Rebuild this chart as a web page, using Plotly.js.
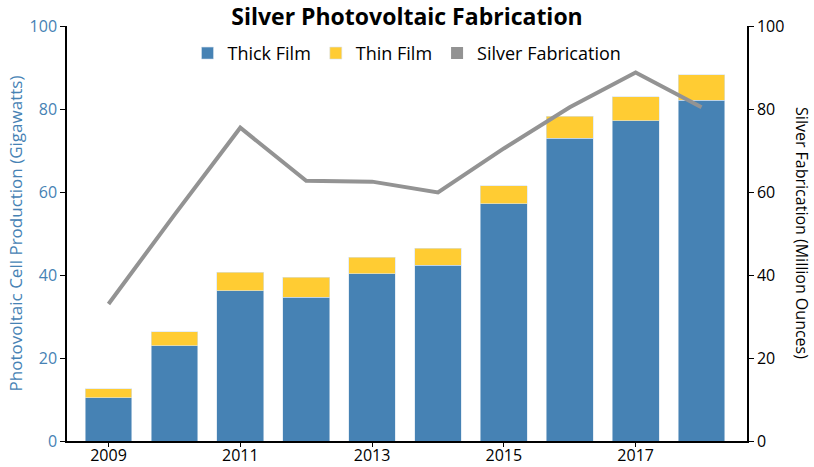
<!DOCTYPE html>
<html>
<head>
<meta charset="utf-8">
<script src="https://cdn.plot.ly/plotly-3.0.1.min.js"></script>
<style>
  html, body { margin: 0; padding: 0; background: #fff; }
  #chart { width: 814px; height: 467px; }
</style>
</head>
<body>
<div id="chart"></div>
<script>
var years = [2009, 2010, 2011, 2012, 2013, 2014, 2015, 2016, 2017, 2018];
var thickFilm = [10.4, 22.9, 36.2, 34.7, 40.3, 42.4, 57.2, 72.9, 77.2, 82.1];
var thinFilm = [2.2, 3.4, 4.5, 4.7, 4.0, 4.1, 4.3, 5.4, 5.8, 6.1];
var silverFab = [33.0, 54.5, 75.5, 62.7, 62.5, 59.9, 70.5, 80.4, 88.8, 80.4];

var blue = '#4682b4';
var yellow = '#ffcc33';
var grey = '#939393';
var font = '"Open Sans", Lato, sans-serif';

var thick = {
  x: years, y: thickFilm, type: 'bar', name: 'Thick Film',
  marker: {color: blue, line: {color: '#d6e3ef', width: 0.6}}
};
var thin = {
  x: years, y: thinFilm, type: 'bar', name: 'Thin Film',
  marker: {color: yellow, line: {color: '#d6e3ef', width: 0.6}}
};
var silver = {
  x: years, y: silverFab, type: 'scatter', mode: 'lines', yaxis: 'y2',
  name: 'Silver Fabrication', showlegend: false,
  line: {color: grey, width: 4}
};
// legend swatch only (square, like the original)
var silverKey = {
  x: [null], y: [null], type: 'bar', name: 'Silver Fabrication',
  marker: {color: grey}
};

var layout = {
  width: 814, height: 467,
  margin: {l: 67, r: 67, t: 26, b: 26},
  barmode: 'stack',
  bargap: 0.29,
  paper_bgcolor: '#fff', plot_bgcolor: '#fff',
  font: {family: font, size: 16, color: '#000'},
  title: {
    text: '<b>Silver Photovoltaic Fabrication</b>',
    font: {family: font, size: 23, color: '#000'},
    x: 0.5, xanchor: 'center', y: 0.9636, yanchor: 'middle'
  },
  showlegend: true,
  legend: {
    orientation: 'h', x: 0.5, xanchor: 'center', y: 0.934, yanchor: 'middle',
    font: {family: font, size: 18, color: '#000'},
    traceorder: 'normal', itemwidth: 30, bgcolor: 'rgba(0,0,0,0)'
  },
  xaxis: {
    range: [2008.37, 2018.69],
    tickmode: 'array', tickvals: [2009, 2011, 2013, 2015, 2017],
    ticks: 'outside', ticklen: 4, tickcolor: '#000',
    ticklabelstandoff: -5,
    showline: true, linecolor: '#000', linewidth: 1.5,
    showgrid: false, zeroline: false,
    tickfont: {family: font, size: 16, color: '#000'}
  },
  yaxis: {
    range: [0, 100], dtick: 20,
    ticks: 'outside', ticklen: 5, tickcolor: '#000',
    showline: true, linecolor: '#000', linewidth: 1.5,
    showgrid: false, zeroline: false,
    tickfont: {family: font, size: 16, color: blue},
    title: {text: 'Photovoltaic Cell Production (Gigawatts)', standoff: 3,
      font: {family: font, size: 17, color: blue}}
  },
  yaxis2: {
    range: [0, 100], dtick: 20, overlaying: 'y', side: 'right',
    ticks: 'outside', ticklen: 5, tickcolor: '#000',
    showline: true, linecolor: '#000', linewidth: 1.5,
    showgrid: false, zeroline: false,
    tickfont: {family: font, size: 16, color: '#000'}
  },
  annotations: [{
    text: 'Silver Fabrication (Million Ounces)',
    xref: 'paper', yref: 'paper', x: 1.0815, y: 0.5,
    xanchor: 'center', yanchor: 'middle', textangle: 90, showarrow: false,
    font: {family: font, size: 16, color: '#000'}
  }]
};

Plotly.newPlot('chart', [thick, thin, silverKey, silver], layout, {displayModeBar: false});
</script>
</body>
</html>
